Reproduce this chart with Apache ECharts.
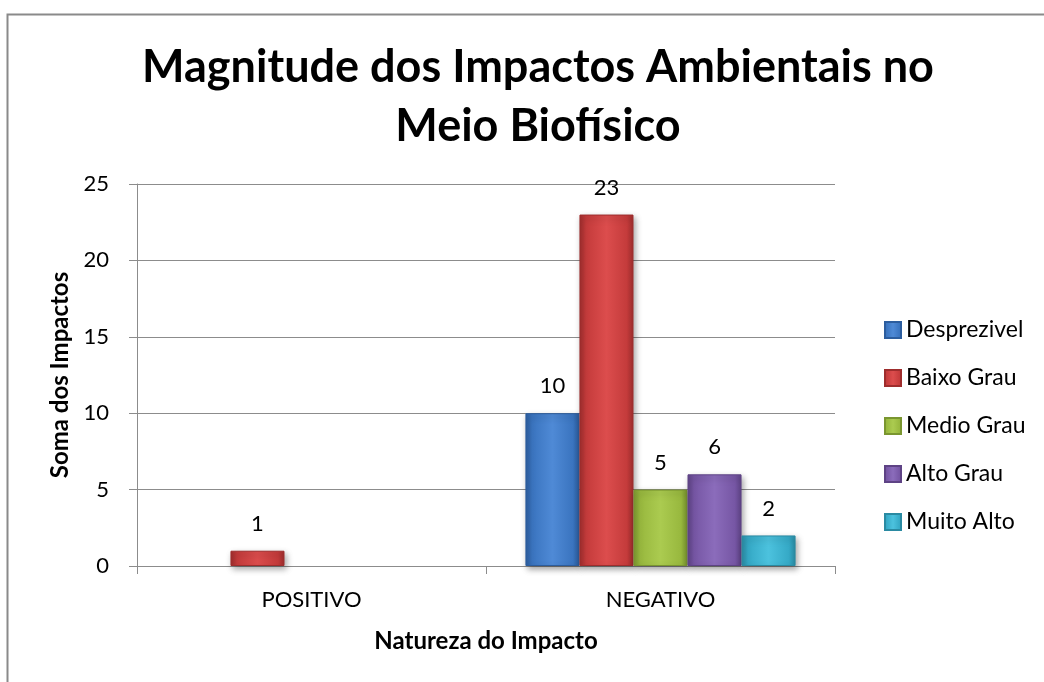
<!DOCTYPE html>
<html>
<head>
<meta charset="utf-8">
<script src="https://cdn.jsdelivr.net/npm/echarts@6/dist/echarts.min.js"></script>
<style>
  html, body { margin: 0; padding: 0; background: #ffffff; }
  #chart { width: 1044px; height: 682px; }
</style>
</head>
<body>
<div id="chart"></div>
<script>
// Natureza do impacto (categorias do eixo X)
const categories = ['POSITIVO', 'NEGATIVO'];

// Soma dos impactos por grau de magnitude
const desprezivel = [null, 10];
const baixoGrau   = [1, 23];
const medioGrau   = [null, 5];
const altoGrau    = [null, 6];
const muitoAlto   = [null, 2];

const seriesNames = ['Desprezivel', 'Baixo Grau', 'Medio Grau', 'Alto Grau', 'Muito Alto'];
const seriesData  = [desprezivel, baixoGrau, medioGrau, altoGrau, muitoAlto];

// Tons de base, realce e sombra de cada série
const baseColors  = ['#3a74bf', '#c43b3b', '#98b83e', '#7656a4', '#35a9c6'];
const lightColors = ['#4f8ad6', '#dc4d4d', '#abcb50', '#8b6cbb', '#4cc2de'];
const darkColors  = ['#2c5d9e', '#9e2d2d', '#7a9630', '#5e4385', '#2a8aa2'];

const yTicks = { min: 0, max: 25, interval: 5 };

const font = 'Lato, "Open Sans", sans-serif';

function barGradient(i) {
  return new echarts.graphic.LinearGradient(0, 0, 1, 0, [
    { offset: 0, color: darkColors[i] },
    { offset: 0.12, color: baseColors[i] },
    { offset: 0.5, color: lightColors[i] },
    { offset: 0.88, color: baseColors[i] },
    { offset: 1, color: darkColors[i] }
  ]);
}

const chart = echarts.init(document.getElementById('chart'), null, { renderer: 'canvas' });

chart.setOption({
  backgroundColor: '#ffffff',
  animation: false,
  textStyle: { fontFamily: font },
  graphic: [{
    type: 'rect',
    left: 5, top: 12,
    shape: { width: 1060, height: 700 },
    style: { fill: 'none', stroke: '#8a8a8a', lineWidth: 2 },
    silent: true
  }],
  title: {
    text: 'Magnitude dos Impactos Ambientais no\nMeio Biofísico',
    left: 533, top: 33, textAlign: 'center',
    textStyle: { fontFamily: font, fontWeight: 'bold', fontSize: 45, lineHeight: 59, color: '#000000' }
  },
  legend: {
    orient: 'vertical',
    left: 879, top: 313,
    itemWidth: 16, itemHeight: 16,
    itemGap: 24,
    icon: 'rect',
    textStyle: { fontFamily: font, fontSize: 23, color: '#000000', lineHeight: 24 },
    data: seriesNames
  },
  grid: { left: 137, right: 209, top: 184, bottom: 116, containLabel: false },
  xAxis: {
    type: 'category',
    data: categories,
    boundaryGap: true,
    name: 'Natureza do Impacto',
    nameLocation: 'middle',
    nameGap: 63,
    nameTextStyle: { fontFamily: font, fontWeight: 'bold', fontSize: 24, color: '#000000' },
    axisLine: { lineStyle: { color: '#8c8c8c', width: 1 } },
    axisTick: { show: true, length: 8, inside: false, lineStyle: { color: '#8c8c8c' } },
    axisLabel: { fontFamily: font, fontSize: 22, color: '#000000', margin: 23 }
  },
  yAxis: {
    type: 'value',
    min: yTicks.min, max: yTicks.max, interval: yTicks.interval,
    name: 'Soma dos Impactos',
    nameLocation: 'middle',
    nameGap: 62,
    nameRotate: 90,
    nameTextStyle: { fontFamily: font, fontWeight: 'bold', fontSize: 24, color: '#000000' },
    axisLine: { show: true, lineStyle: { color: '#8c8c8c', width: 1 } },
    axisTick: { show: true, length: 8, inside: false, lineStyle: { color: '#8c8c8c' } },
    axisLabel: { fontFamily: font, fontSize: 22, color: '#000000', margin: 28 },
    splitLine: { show: true, lineStyle: { color: '#8c8c8c', width: 1 } }
  },
  series: seriesNames.map((name, i) => ({
    name: name,
    type: 'bar',
    data: seriesData[i],
    barGap: '0%',
    barCategoryGap: '22.6%',
    itemStyle: {
      color: barGradient(i),
      borderColor: darkColors[i],
      borderWidth: 1,
      shadowColor: 'rgba(0,0,0,0.35)',
      shadowBlur: 6,
      shadowOffsetX: 2,
      shadowOffsetY: 3
    },
    label: {
      show: true,
      position: 'top',
      distance: 16,
      fontFamily: font,
      fontSize: 22,
      color: '#000000'
    }
  }))
});
</script>
</body>
</html>
